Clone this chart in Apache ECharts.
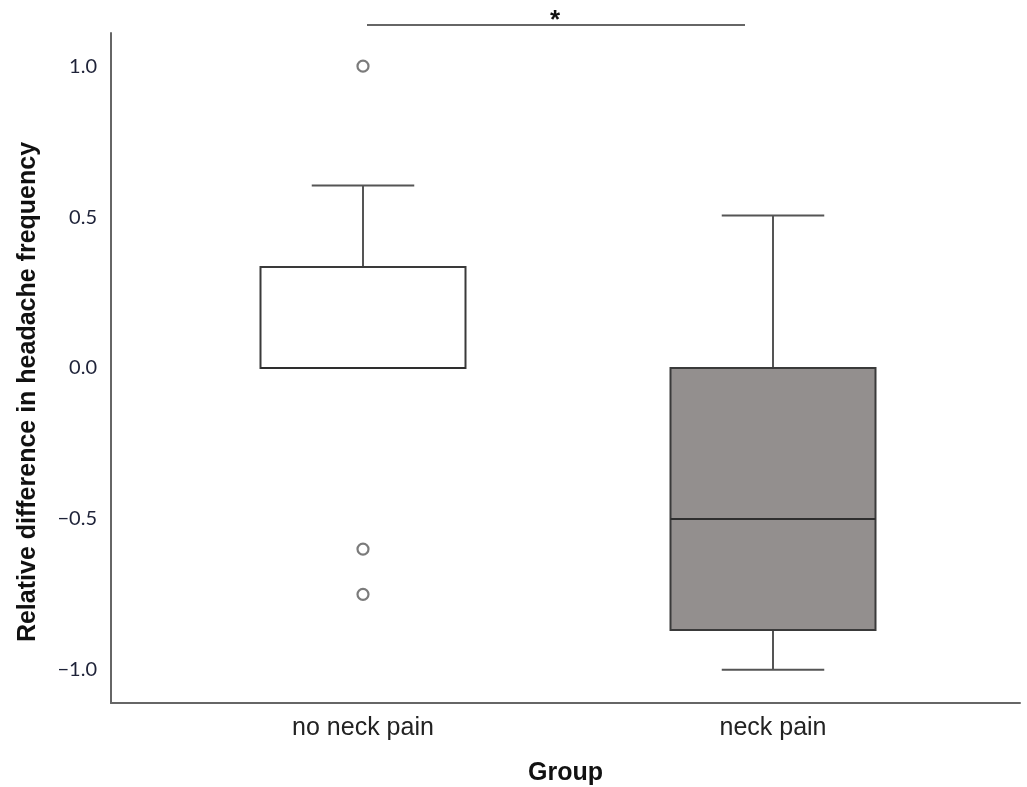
<!DOCTYPE html>
<html>
<head>
<meta charset="utf-8">
<style>
  html, body { margin: 0; padding: 0; background: #fff; }
  #chart { width: 1027px; height: 787px; }
</style>
<script src="https://cdn.jsdelivr.net/npm/echarts@6/dist/echarts.min.js"></script>
</head>
<body>
<div id="chart"></div>
<script>
// Groups on the x axis
const categories = ['no neck pain', 'neck pain'];
// Five-number summaries per group: [lower whisker, Q1, median, Q3, upper whisker]
const noNeckPainStats = [0.0, 0.0, 0.0, 0.335, 0.605];
const neckPainStats = [-1.0, -0.868, -0.5, 0.0, 0.505];
// Outlying observations: [group index, value]
const outliers = [[0, 1.0], [0, -0.6], [0, -0.75]];
// Box fill colours per group
const boxFills = ['#ffffff', '#938f8e'];
// Y tick values
const yTicks = [-1.0, -0.5, 0.0, 0.5, 1.0];
const yMin = -1.11, yMax = 1.11;

const chart = echarts.init(document.getElementById('chart'), null, { renderer: 'canvas' });

const boxData = [
  [0].concat(noNeckPainStats),
  [1].concat(neckPainStats)
];

function renderBox(params, api) {
  const idx = api.value(0);
  const low = api.value(1), q1 = api.value(2), med = api.value(3), q3 = api.value(4), high = api.value(5);
  const band = api.size([1, 0])[0];
  const boxW = band * 0.5;
  const capW = band * 0.25;
  const cx = api.coord([idx, 0])[0];
  const yLow = api.coord([idx, low])[1];
  const yQ1 = api.coord([idx, q1])[1];
  const yMed = api.coord([idx, med])[1];
  const yQ3 = api.coord([idx, q3])[1];
  const yHigh = api.coord([idx, high])[1];
  const whisker = { stroke: '#555', lineWidth: 2 };
  const children = [];
  if (high > q3) {
    children.push({ type: 'line', shape: { x1: cx, y1: yQ3, x2: cx, y2: yHigh }, style: whisker });
    children.push({ type: 'line', shape: { x1: cx - capW / 2, y1: yHigh, x2: cx + capW / 2, y2: yHigh }, style: whisker });
  }
  if (low < q1) {
    children.push({ type: 'line', shape: { x1: cx, y1: yQ1, x2: cx, y2: yLow }, style: whisker });
    children.push({ type: 'line', shape: { x1: cx - capW / 2, y1: yLow, x2: cx + capW / 2, y2: yLow }, style: whisker });
  }
  children.push({
    type: 'rect',
    shape: { x: cx - boxW / 2, y: yQ3, width: boxW, height: yQ1 - yQ3 },
    style: { fill: boxFills[idx], stroke: '#3a3a3a', lineWidth: 2 }
  });
  children.push({
    type: 'line',
    shape: { x1: cx - boxW / 2, y1: yMed, x2: cx + boxW / 2, y2: yMed },
    style: { stroke: '#2e2e2e', lineWidth: 2 }
  });
  return { type: 'group', children: children };
}

const option = {
  backgroundColor: '#ffffff',
  animation: false,
  grid: [
    // plotting band for the boxes
    { left: 158, top: 33, width: 820, bottom: 84, outerBoundsMode: 'none', containLabel: false },
    // full frame carrying the visible axes
    { left: 111, top: 33, right: 7, bottom: 84, outerBoundsMode: 'none', containLabel: false }
  ],
  xAxis: [
    {
      type: 'category',
      gridIndex: 0,
      data: categories,
      axisLine: { show: false },
      axisTick: { show: false },
      splitLine: { show: false },
      axisLabel: {
        margin: 13,
        fontFamily: 'Liberation Sans',
        fontSize: 25,
        color: '#222'
      }
    },
    {
      type: 'value',
      gridIndex: 1,
      min: 0, max: 1,
      axisLine: { show: true, onZero: false, lineStyle: { color: '#666', width: 2 } },
      axisTick: { show: false },
      axisLabel: { show: false },
      splitLine: { show: false },
      name: 'Group',
      nameLocation: 'middle',
      nameGap: 58,
      nameTextStyle: { fontFamily: 'Liberation Sans', fontWeight: 'bold', fontSize: 25, color: '#111' }
    }
  ],
  yAxis: [
    {
      type: 'value',
      gridIndex: 0,
      min: yMin, max: yMax,
      show: false
    },
    {
      type: 'value',
      gridIndex: 1,
      min: yMin, max: yMax,
      axisLine: { show: true, onZero: false, lineStyle: { color: '#666', width: 2 } },
      axisTick: { show: false },
      splitLine: { show: false },
      axisLabel: {
        customValues: yTicks,
        margin: 14,
        fontFamily: 'Lato',
        fontSize: 20,
        color: '#1e2238',
        formatter: function (v) { return v.toFixed(1).replace('-', '\u2212'); }
      }
    }
  ],
  series: [
    {
      type: 'custom',
      xAxisIndex: 0,
      yAxisIndex: 0,
      renderItem: renderBox,
      encode: { x: 0, y: [1, 2, 3, 4, 5] },
      data: boxData,
      z: 2
    },
    {
      type: 'scatter',
      xAxisIndex: 0,
      yAxisIndex: 0,
      data: outliers,
      symbol: 'circle',
      symbolSize: 11,
      itemStyle: { color: '#ffffff', borderColor: '#5a5a5a', borderWidth: 2.2 },
      z: 3
    }
  ],
  graphic: [
    {
      type: 'text',
      x: 28, y: 392,
      rotation: Math.PI / 2,
      style: {
        text: 'Relative difference in headache frequency',
        fontFamily: 'Liberation Sans',
        fontWeight: 'bold',
        fontSize: 25,
        fill: '#111',
        textAlign: 'center',
        textVerticalAlign: 'middle'
      }
    },
    {
      type: 'line',
      shape: { x1: 367, y1: 25, x2: 745, y2: 25 },
      style: { stroke: '#666', lineWidth: 2 }
    },
    {
      type: 'text',
      x: 555, y: 21,
      style: {
        text: '*',
        fontFamily: 'Liberation Sans',
        fontWeight: 'bold',
        fontSize: 26,
        fill: '#111',
        textAlign: 'center',
        textVerticalAlign: 'middle'
      }
    }
  ]
};

chart.setOption(option);
</script>
</body>
</html>
